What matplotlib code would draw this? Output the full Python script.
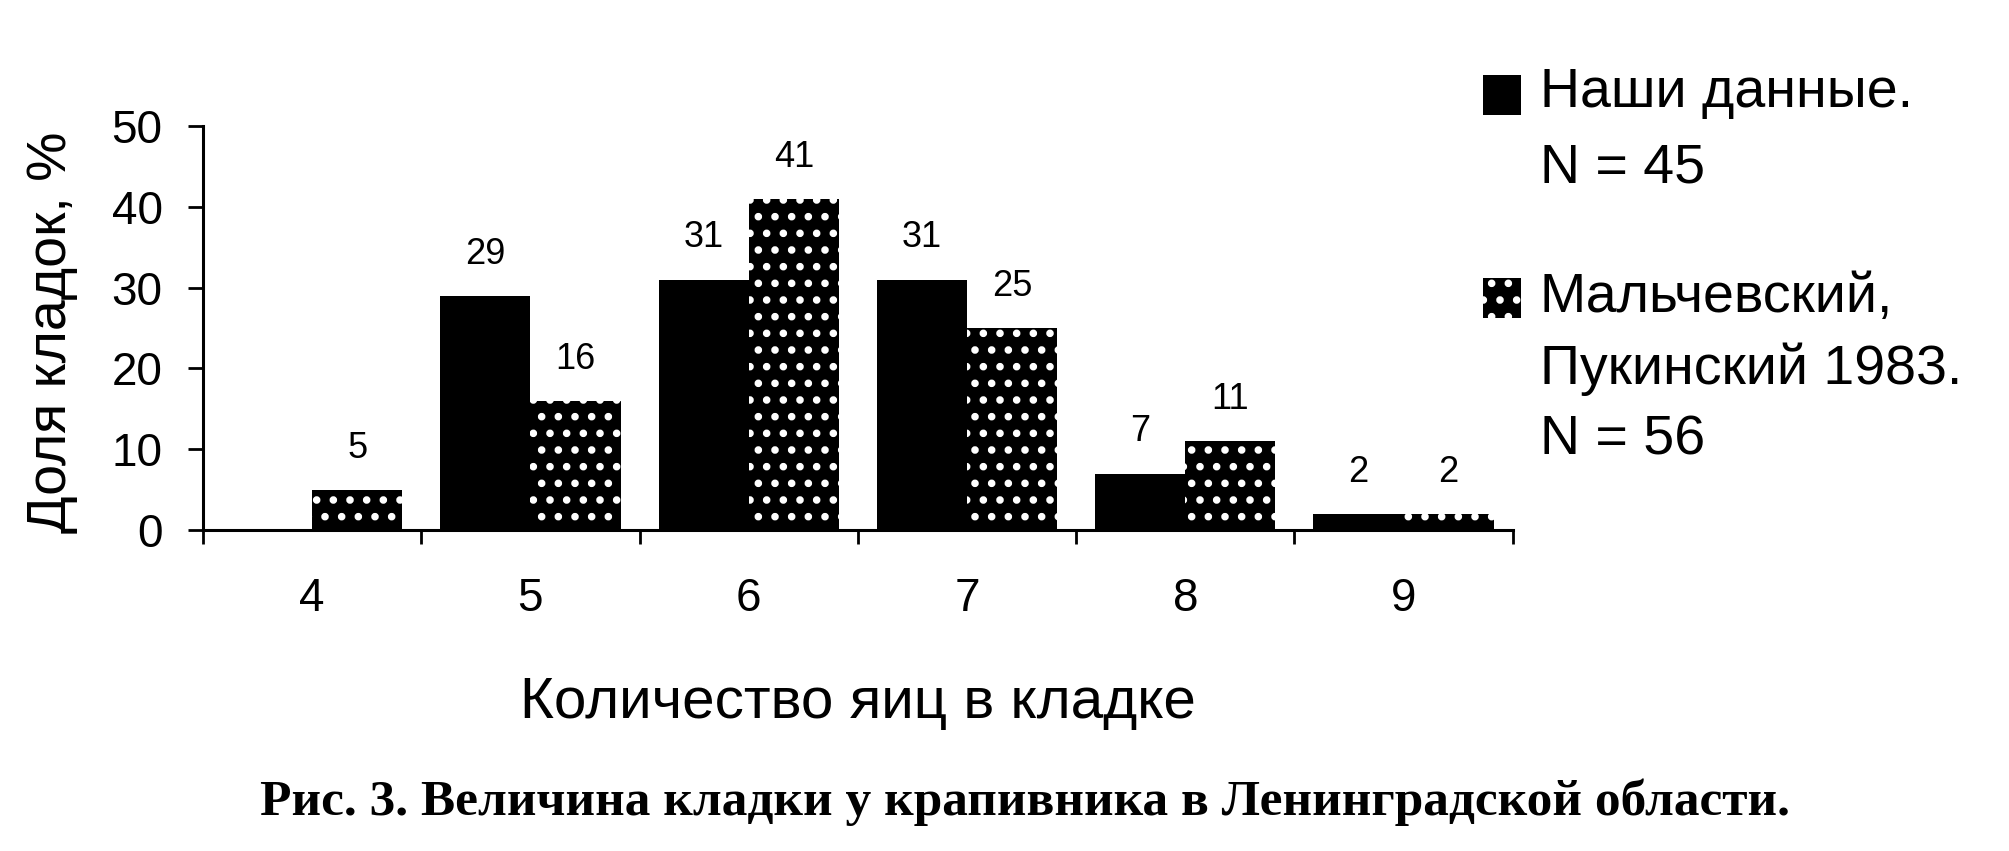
import matplotlib.pyplot as plt
from matplotlib.patches import Rectangle

# Данные (доля кладок, %)
eggs = [4, 5, 6, 7, 8, 9]
nashi = [0, 29, 31, 31, 7, 2]
malch = [5, 16, 41, 25, 11, 2]

legend_nashi = "Наши данные.\nN = 45"
legend_malch = "Мальчевский,\nПукинский 1983.\nN = 56"
xlabel = "Количество яиц в кладке"
ylabel = "Доля кладок, %"
caption = "Рис. 3. Величина кладки у крапивника в Ленинградской области."

plt.rcParams['font.family'] = ['Liberation Sans', 'DejaVu Sans']
plt.rcParams['hatch.color'] = 'white'
plt.rcParams['hatch.linewidth'] = 3.0

fig = plt.figure(figsize=(20.09, 8.51), dpi=100)
ax = fig.add_axes([0.101, 0.377, 0.652, 0.475])

w = 0.413
ax.bar([e - w / 2 for e in eggs], nashi, width=w, color='black', linewidth=0)
ax.bar([e + w / 2 for e in eggs], malch, width=w, color='black', linewidth=0,
       hatch='.')

# подписи значений
for e, v in zip(eggs, nashi):
    if v > 0:
        ax.annotate(str(v), (e - w / 2, v), xytext=(0, 30), textcoords='offset points',
                    ha='center', va='center', fontsize=26)
for e, v in zip(eggs, malch):
    ax.annotate(str(v), (e + w / 2, v), xytext=(0, 30), textcoords='offset points',
                ha='center', va='center', fontsize=26)

ax.set_xlim(3.5, 9.5)
ax.set_ylim(0, 50)
ax.set_yticks(range(0, 51, 10))
ax.set_xticks(eggs)
ax.set_xticklabels([str(e) for e in eggs])
ax.set_xticks([e - 0.5 for e in eggs] + [9.5], minor=True)
ax.tick_params(axis='x', which='major', length=0, pad=34, labelsize=33)
ax.tick_params(axis='x', which='minor', length=10, width=2)
ax.tick_params(axis='y', length=11, width=2, pad=18, labelsize=33)

for s in ['top', 'right']:
    ax.spines[s].set_visible(False)
for s in ['left', 'bottom']:
    ax.spines[s].set_linewidth(2.2)

ax.set_ylabel(ylabel, fontsize=40)
ax.yaxis.set_label_coords(-0.095, 0.49)
ax.set_xlabel(xlabel, fontsize=42, va='top')
ax.xaxis.set_label_coords(0.5, -0.36)

# легенда
fig.add_artist(Rectangle((1483 / 2009, 1 - 115 / 851), 38 / 2009, 40 / 851,
                         transform=fig.transFigure, facecolor='black', linewidth=0))
fig.add_artist(Rectangle((1483 / 2009, 1 - 318 / 851), 38 / 2009, 40 / 851,
                         transform=fig.transFigure, facecolor='black', linewidth=0,
                         hatch='.'))
fig.text(1540 / 2009, 1 - 67 / 851, legend_nashi, fontsize=40, va='top',
         ha='left', linespacing=1.58)
fig.text(1540 / 2009, 1 - 272 / 851, legend_malch, fontsize=40, va='top',
         ha='left', linespacing=1.45)

fig.text(0.51, 1 - 815 / 851, caption, fontsize=37, fontweight='bold',
         family=['Liberation Serif', 'DejaVu Serif'], ha='center', va='baseline')

fig.savefig('out.png', dpi=100)
